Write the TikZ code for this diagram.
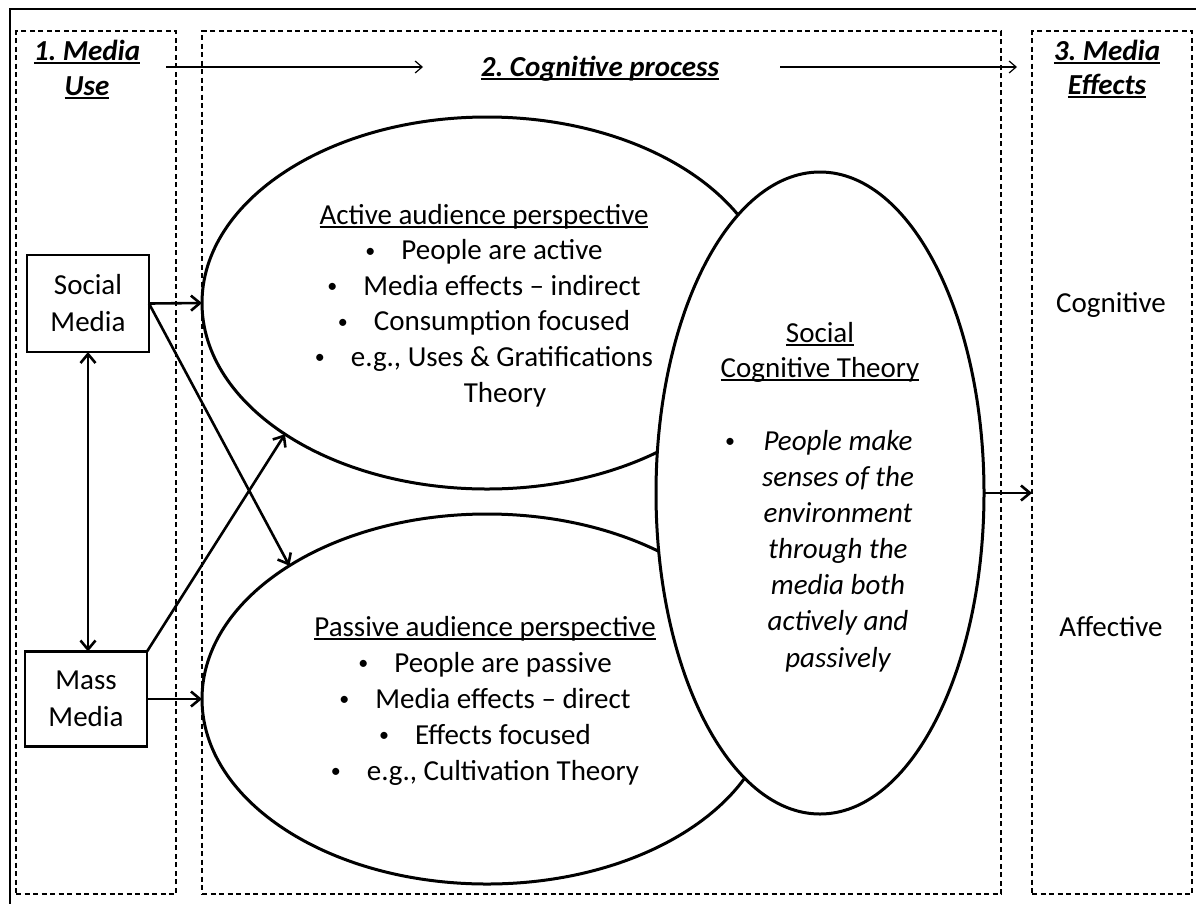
\documentclass[tikz,border=0pt]{standalone}
\usepackage{fontspec}
\setmainfont{Carlito}
\usetikzlibrary{arrows.meta,shapes.geometric}
\frenchspacing
\newcommand{\myul}[1]{\leavevmode\setbox0\hbox{#1}\rlap{\rule[-3.6pt]{\wd0}{1.5pt}}\box0}
\newcommand{\mybullet}{\raisebox{2.5pt}{\fontsize{20}{20}\selectfont\textbullet}}
\newcommand{\bul}{\makebox[14pt]{\mybullet}\hspace{24pt}}
\begin{document}
\begin{tikzpicture}[x=1pt,y=-1pt,
  txt/.style={font=\fontsize{29}{36}\selectfont, inner sep=0pt, anchor=base},
  hdr/.style={txt, font=\fontsize{29}{36}\selectfont\bfseries\itshape},
  itx/.style={txt, font=\fontsize{29}{36}\selectfont\itshape},
  ell/.style={ellipse, draw, line width=3pt, fill=white, inner sep=0pt, outer sep=0pt},
  mbox/.style={rectangle, draw, line width=2.5pt, fill=white, inner sep=0pt, outer sep=0pt, minimum width=122pt, align=center, font=\fontsize{29}{37}\selectfont},
  dbox/.style={rectangle, draw, line width=1.3pt, dash pattern=on 5pt off 3.5pt, inner sep=0pt, outer sep=0pt, minimum height=863pt},
  thk/.style={line width=2.6pt, -{Straight Barb[length=9pt,width=15pt]}},
  thn/.style={line width=1.2pt, -{Straight Barb[length=7pt,width=12pt]}}
]
\useasboundingbox (0,0) rectangle (1196,903);
\clip (0,0) rectangle (1196,903);
\fill[white] (0,0) rectangle (1196,903);
% outer frame
\draw[line width=2.5pt] (10,9) rectangle (1215,920);
% dashed columns
\node[dbox, minimum width=160pt] (col1) at (96,462.5) {};
\node[dbox, minimum width=799pt] (col2) at (601.5,462.5) {};
\node[dbox, minimum width=160pt] (col3) at (1112,462.5) {};
% headers
\node[hdr] (h1a) at (87,60) {\myul{1. Media}};
\node[hdr] (h1b) at (87,95) {\myul{Use}};
\node[hdr] (h2) at (600,76) {\myul{2. Cognitive process}};
\node[hdr] (h3a) at (1107,60) {\myul{3. Media}};
\node[hdr] (h3b) at (1107,94) {\myul{Effects}};
\coordinate (ha1) at (166,67);
\coordinate (ha2) at (423,67);
\coordinate (hb1) at (780,67);
\coordinate (hb2) at (1017,67);
\draw[thn] (ha1) -- (ha2);
\draw[thn] (hb1) -- (hb2);
% media boxes
\node[mbox, minimum height=97pt] (soc) at (88,303.5) {Social\\Media};
\node[mbox, minimum height=95pt] (mass) at (86,699) {Mass\\Media};
% ellipses
\node[ell, minimum width=570pt, minimum height=372pt] (act) at (487,303) {};
\node[ell, minimum width=570pt, minimum height=370pt] (pas) at (487,699) {};
\node[ell, minimum width=328pt, minimum height=642pt] (sct) at (820,493) {};
% active text
\node[txt] (a0) at (484,224) {\myul{Active audience perspective}};
\node[txt] (a1) at (483,259.6) {\bul People are active};
\node[txt] (a2) at (483,295.2) {\bul Media effects – indirect};
\node[txt] (a3) at (483,330.8) {\bul Consumption focused};
\node[txt] (a4) at (483,366.4) {\bul e.g., Uses \& Gratifications};
\node[txt] (a5) at (505,402) {Theory};
% passive text
\node[txt] (p0) at (485,636) {\myul{Passive audience perspective}};
\node[txt] (p1) at (484,672) {\bul People are passive};
\node[txt] (p2) at (484,708) {\bul Media effects – direct};
\node[txt] (p3) at (484,744) {\bul Effects focused};
\node[txt] (p4) at (484,780) {\bul e.g., Cultivation Theory};
% SCT text
\node[txt] (s0) at (820,342) {\myul{Social}};
\node[txt] (s1) at (820,377) {\myul{Cognitive Theory}};
\node[txt] (sb) at (730,450) {\mybullet};
\node[itx] (s2) at (838,450) {People make};
\node[itx] (s3) at (838,486) {senses of the};
\node[itx] (s4) at (838,522) {environment};
\node[itx] (s5) at (838,558) {through the};
\node[itx] (s6) at (838,594) {media both};
\node[itx] (s7) at (838,630) {actively and};
\node[itx] (s8) at (838,667) {passively};
% effects
\node[txt] (cog) at (1111,312) {Cognitive};
\node[txt] (aff) at (1111,636) {Affective};
% connectors
\draw[thk] (soc.east) -- (act.west);
\draw[thk] (soc.east) -- (pas.146.2);
\draw[thk] (mass.north east) -- (act.213.8);
\draw[thk] (mass.east) -- (pas.west);
\draw[line width=2.6pt, {Straight Barb[length=9pt,width=15pt]}-{Straight Barb[length=9pt,width=15pt]}] (soc.south) -- (soc.south |- mass.north);
\draw[thk] (sct.east) -- (sct.east -| col3.west);
\end{tikzpicture}
\end{document}
